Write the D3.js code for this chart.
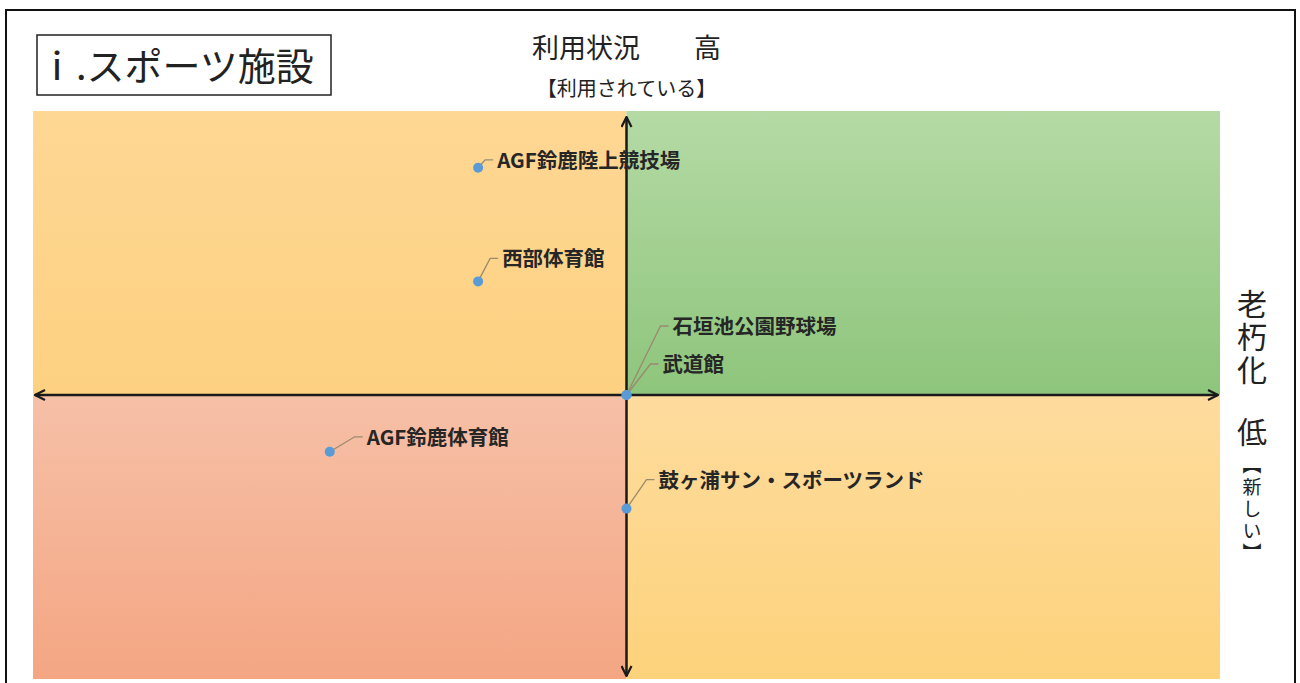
<!DOCTYPE html>
<html>
<head>
<meta charset="utf-8">
<script src="https://cdn.jsdelivr.net/npm/d3@7"></script>
<style>
  body { margin: 0; background: #fff; }
  text { font-family: "Noto Sans CJK JP", "Noto Sans", sans-serif; }
</style>
</head>
<body>
<svg id="chart"></svg>
<script>
// Facility names and their position on the matrix (x: aging, right = new; y: usage, up = high)
const facilities = [
  "AGF鈴鹿陸上競技場",
  "西部体育館",
  "石垣池公園野球場",
  "武道館",
  "AGF鈴鹿体育館",
  "鼓ヶ浦サン・スポーツランド"
];
const agingValues = [-0.25, -0.25, 0, 0, -0.5, 0];
const usageValues = [0.8, 0.4, 0, 0, -0.2, -0.4];

// Label offsets from each point, in pixels
const labelOffsets = [[19, 0], [24, -15], [46, -61], [36, -23], [37, -7], [32, -21]];

const W = 1300, H = 683;
const plot = { left: 33, right: 1220, top: 111, bottom: 679 };

const svg = d3.select("#chart").attr("width", W).attr("height", H);

const x = d3.scaleLinear().domain([-1, 1]).range([plot.left, plot.right]);
const y = d3.scaleLinear().domain([-1, 1]).range([plot.bottom, plot.top]);

// Gradients for the four quadrants
const defs = svg.append("defs");
const quadrants = [
  { id: "qTL", x0: -1, x1: 0, y0: 1, y1: 0, c: ["#fed794", "#fdd181"] },
  { id: "qTR", x0: 0, x1: 1, y0: 1, y1: 0, c: ["#b5daa5", "#8ec57c"] },
  { id: "qBL", x0: -1, x1: 0, y0: 0, y1: -1, c: ["#f6c0a7", "#f4a683"] },
  { id: "qBR", x0: 0, x1: 1, y0: 0, y1: -1, c: ["#fedc9e", "#fdd27b"] }
];
quadrants.forEach(function (q) {
  const g = defs.append("linearGradient").attr("id", q.id)
    .attr("x1", 0).attr("y1", 0).attr("x2", 0).attr("y2", 1);
  g.append("stop").attr("offset", "0%").attr("stop-color", q.c[0]);
  g.append("stop").attr("offset", "100%").attr("stop-color", q.c[1]);
});

// Outer frame
svg.append("rect")
  .attr("x", 6).attr("y", 10).attr("width", 1289).attr("height", 700)
  .attr("fill", "none").attr("stroke", "#111").attr("stroke-width", 2);

svg.selectAll(".quad")
  .data(quadrants)
  .enter()
  .append("rect")
  .attr("class", "quad")
  .attr("x", d => x(d.x0))
  .attr("y", d => y(d.y0))
  .attr("width", d => x(d.x1) - x(d.x0))
  .attr("height", d => y(d.y1) - y(d.y0))
  .attr("fill", d => "url(#" + d.id + ")");

// Axes with arrowheads at both ends
const marker = defs.append("marker")
  .attr("id", "arrow")
  .attr("viewBox", "0 0 12 12")
  .attr("refX", 11).attr("refY", 6)
  .attr("markerWidth", 12).attr("markerHeight", 12)
  .attr("markerUnits", "userSpaceOnUse")
  .attr("orient", "auto-start-reverse");
marker.append("path")
  .attr("d", "M1,1 L11,6 L1,11")
  .attr("fill", "none").attr("stroke", "#1a1a1a").attr("stroke-width", 2.2);

svg.append("line")
  .attr("x1", x(-1) + 2).attr("x2", x(1) - 2)
  .attr("y1", y(0)).attr("y2", y(0))
  .attr("stroke", "#1a1a1a").attr("stroke-width", 2.5)
  .attr("marker-start", "url(#arrow)").attr("marker-end", "url(#arrow)");

svg.append("line")
  .attr("x1", x(0)).attr("x2", x(0))
  .attr("y1", y(1) + 6).attr("y2", y(-1) - 3)
  .attr("stroke", "#1a1a1a").attr("stroke-width", 2.5)
  .attr("marker-start", "url(#arrow)").attr("marker-end", "url(#arrow)");

// Title box
svg.append("rect")
  .attr("x", 37).attr("y", 35).attr("width", 294).attr("height", 60)
  .attr("fill", "#fff").attr("stroke", "#222").attr("stroke-width", 1.5);
svg.append("text")
  .attr("x", 38).attr("y", 80)
  .attr("font-size", 38).attr("fill", "#222")
  .text("ⅰ.スポーツ施設");

// Axis labels
svg.append("text")
  .attr("x", x(0)).attr("y", 58)
  .attr("text-anchor", "middle").attr("font-size", 27).attr("fill", "#222")
  .attr("xml:space", "preserve")
  .text("利用状況　　高");
svg.append("text")
  .attr("x", x(0)).attr("y", 96)
  .attr("text-anchor", "middle").attr("font-size", 20).attr("fill", "#222")
  .text("【利用されている】");

// Vertical label on the right
const rightLabels = [
  { text: "老朽化", top: 289, size: 30, spacing: 3 },
  { text: "低", top: 417, size: 30, spacing: 0 },
  { text: "【新しい】", top: 455, size: 19, spacing: 3 }
];
svg.selectAll(".vlabel")
  .data(rightLabels)
  .enter()
  .append("text")
  .attr("class", "vlabel")
  .attr("x", 1252)
  .attr("y", d => d.top)
  .style("writing-mode", "vertical-rl")
  .style("text-orientation", "upright")
  .style("letter-spacing", d => d.spacing + "px")
  .attr("font-size", d => d.size)
  .attr("fill", "#222")
  .text(d => d.text);

// Leader lines, points, labels
const items = facilities.map(function (name, i) {
  return { name: name, ax: agingValues[i], us: usageValues[i], off: labelOffsets[i] };
});

svg.selectAll(".leader")
  .data(items)
  .enter()
  .append("path")
  .attr("class", "leader")
  .attr("d", function (d) {
    const px = x(d.ax), py = y(d.us);
    const lx = px + d.off[0], ly = py + d.off[1] - 8;
    return "M" + px + "," + py + " L" + (lx - 12) + "," + ly + " L" + (lx - 4) + "," + ly;
  })
  .attr("fill", "none").attr("stroke", "#9a8a6e").attr("stroke-width", 1.3);

svg.selectAll(".dot")
  .data(items)
  .enter()
  .append("circle")
  .attr("class", "dot")
  .attr("cx", d => x(d.ax))
  .attr("cy", d => y(d.us))
  .attr("r", 5)
  .attr("fill", "#5b9bd5");

svg.selectAll(".label")
  .data(items)
  .enter()
  .append("text")
  .attr("class", "label")
  .attr("x", d => x(d.ax) + d.off[0])
  .attr("y", d => y(d.us) + d.off[1])
  .attr("font-size", 20.5)
  .attr("font-weight", 700)
  .attr("fill", "#262626")
  .text(d => d.name);
</script>
</body>
</html>
